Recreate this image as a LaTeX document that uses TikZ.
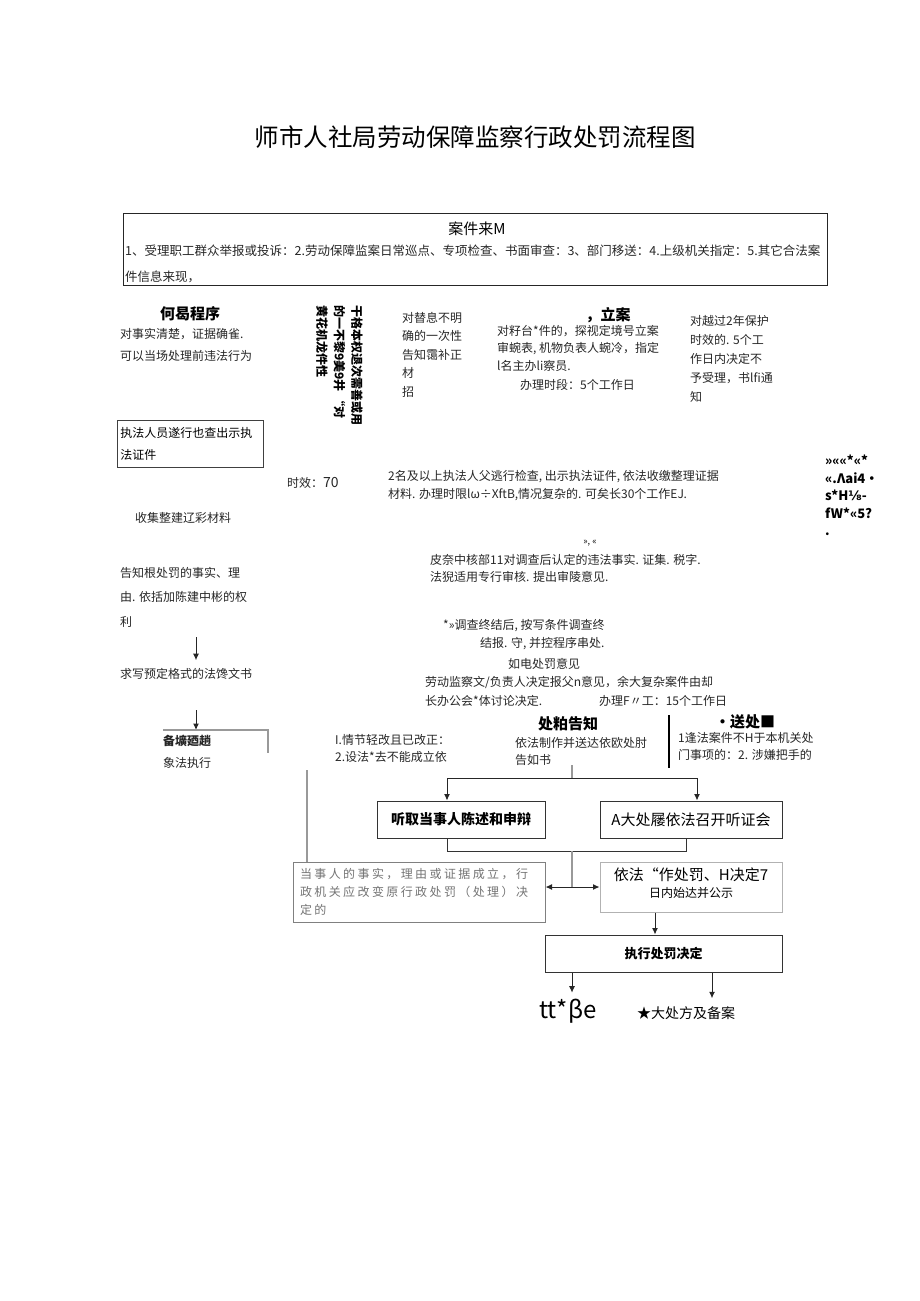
\documentclass[tikz,border=0pt]{standalone}
\usepackage{fontspec}
\setmainfont{Noto Sans CJK SC}
\newfontfamily\symfont{DejaVu Sans}
\usetikzlibrary{positioning,arrows.meta}

\tikzset{
    txt/.style={inner sep=0pt, anchor=north west, align=left, text=black!85,
        font=\fontsize{12}{18}\selectfont},
    line/.style={anchor=west, inner sep=0pt, text=black!85,
        font=\fontsize{12}{18}\selectfont},
    heading/.style={inner sep=0pt, font=\fontsize{15}{18}\selectfont\bfseries},
    flowbox/.style={draw=black!80, line width=1pt, minimum height=37pt, inner sep=2pt},
    greyline/.style={draw=black!40, line width=1.6pt},
    arrow/.style={->, draw=black!85, line width=1pt}
}

\begin{document}
\begin{tikzpicture}[x=1pt, y=-1pt, >={Latex[length=6.5pt,width=6pt]}]
    \useasboundingbox (0,0) rectangle (920,1301);

    % Title
    \node[font=\fontsize{24.5}{28}\selectfont] (title) at (475,137)
        {师市人社局劳动保障监察行政处罚流程图};

    % Case sources
    \node[draw=black!85, line width=0.8pt,
        minimum width=704pt,
        minimum height=72pt,
        anchor=north west
    ] (source) at (123,213) {};
    \node[font=\fontsize{15}{18}\selectfont] (sourcehead) at (477,229) {案件来M};
    \node[txt, font=\fontsize{12.5}{26}\selectfont] (sourcetxt) at (125,245)
        {1、受理职工群众举报或投诉：2.劳动保障监案日常巡点、专项检查、书面审查：3、部门移送：4.上级机关指定：5.其它合法案\\件信息来现，};

    % Second row
    \node[heading] (simple) at (190,314) {何曷程序};
    \node[txt, font=\fontsize{12}{22}\selectfont] (simpletxt) at (120,328)
        {对事实清楚，证据确雀.\\可以当场处理前违法行为};
    \node[txt, rotate=-90, text=black,
        font=\fontsize{12}{17.5}\selectfont\bfseries
    ] (reject) at (363,305)
        {干格本权退次需善或用\\的一不黎9美9井 “对\\黄花机龙件性};
    \node[txt, font=\fontsize{12}{18.5}\selectfont] (supply) at (402,312)
        {对替息不明\\确的一次性\\告知霭补正\\材\\招};
    \node[heading] (filing) at (608,315) {，立案};
    \node[txt, font=\fontsize{12}{17.5}\selectfont] (filingtxt) at (497,325)
        {对籽台*件的，探视定境号立案\\审蜿表, 机物负表人蜿冷，指定\\l名主办li察员.};
    \node[line] (filingtime) at (520,385) {办理时段：5个工作日};
    \node[txt, font=\fontsize{12}{19}\selectfont] (norecv) at (690,315)
        {对越过2年保护\\时效的. 5个工\\作日内决定不\\予受理，书lfi通\\知};

    % Third row
    \node[draw=black!75, line width=0.8pt,
        anchor=north west,
        minimum width=146pt,
        minimum height=47pt,
        text width=140pt,
        inner sep=3pt, align=left,
        font=\fontsize{12}{22}\selectfont
    ] (showid) at (117,420) {执法人员遂行也查出示执\\法证件};
    \node[line] (limit) at (287,483) {时效：{\fontsize{14}{18}\selectfont 70}};
    \node[txt, font=\fontsize{12}{18}\selectfont] (investigate) at (388,470)
        {2名及以上执法人父逃行检查, 出示执法证件, 依法收缴整理证据\\材料. 办理时限lω÷XftB,情况复杂的. 可矣长30个工作EJ.};
    \node[anchor=north west, inner sep=0pt, align=left,
        font=\fontsize{13}{17.5}\selectfont\bfseries
    ] (garble) at (825,455) {»««*«*\\«.Λai4·\\s*H{\symfont\bfseries ⅛}-\\fW*«5?\\.};
    \node[line] (collect) at (135,518) {收集整建辽彩材料};
    \node[font=\fontsize{9}{10}\selectfont, inner sep=0pt] (mark) at (590,543) {», «};
    \node[txt, font=\fontsize{12}{17}\selectfont] (review) at (430,554)
        {皮奈中核部11对调查后认定的违法事实. 证集. 税字.\\法猊适用专行审核. 提出审陵意见.};
    \node[txt, font=\fontsize{12}{24.5}\selectfont] (notify) at (120,567)
        {告知根处罚的事实、理\\由. 依括加陈建中彬的权\\利};
    \node[txt, font=\fontsize{12}{18}\selectfont] (report) at (443,619)
        {*»调查终结后, 按写条件调查终\\\hspace{37pt}结报. 守, 并控程序串处.};
    \node[line] (write) at (120,674) {求写预定格式的法馋文书};
    \node[line] (decide) at (508,664) {如电处罚意见};
    \node[txt, font=\fontsize{12}{19}\selectfont] (decidetxt) at (425,676)
        {劳动监察文/负责人决定报父n意见，余大复杂案件由却\\长办公会*体讨论决定.};
    \node[line] (decidetime) at (599,701) {办理F〃工：15个工作日};

    % Left column arrows
    \coordinate (a1) at (196,637);
    \coordinate (a2) at (196,710);
    \coordinate (f1) at (163,730);
    \draw[arrow] (a1) -- ([yshift=8pt]write.north -| a1);
    \draw[arrow] (a2) -- (a2 |- f1);
    \draw[greyline] (f1) -| (268,753);
    \node[line, font=\fontsize{12}{18}\selectfont\bfseries] (execute) at (163,741) {备壙廼趟};
    \node[line] (executetxt) at (163,763) {象法执行};

    % Notification row
    \node[txt, font=\fontsize{12}{17}\selectfont] (exempt) at (335,734)
        {I.情节轻改且已改正：\\2.设法*去不能成立依};
    \node[heading] (inform) at (568,724) {处粕告知};
    \node[txt, font=\fontsize{12}{17}\selectfont] (informtxt) at (515,737)
        {依法制作并送达依欧处肘\\告如书};
    \draw[line width=1.5pt] (669,715) -- (669,768);
    \node[heading] (transfer) at (745,722) {•送处■};
    \node[txt, font=\fontsize{12}{17}\selectfont] (transfertxt) at (678,732)
        {1逢法案件不H于本机关处\\门事项的：2. 涉嫌把手的};

    % Hearing
    \node[flowbox, minimum width=168pt,
        font=\fontsize{14}{18}\selectfont\bfseries
    ] (hear) at (461,819.5) {听取当事人陈述和申辩};
    \node[flowbox, minimum width=182pt,
        font=\fontsize{15}{18}\selectfont
    ] (hearing) at (691,819.5) {A大处屦依法召开听证会};
    \coordinate (top) at (572,765);
    \coordinate (split) at (572,778);
    \coordinate (merge) at (572,851);
    \coordinate (mid) at (572,887);
    \draw[greyline] (top) -- (split);
    \draw[arrow] (split) -| ([xshift=-14pt]hear.north);
    \draw[arrow] (split) -| ([xshift=6pt]hearing.north);
    \draw[draw=black!80, line width=1pt] ([xshift=-14pt]hear.south) |- (merge);
    \draw[draw=black!80, line width=1pt] ([xshift=-5pt]hearing.south) |- (merge);
    \draw[greyline] (merge) -- (mid);

    % Decision
    \node[draw=black!50, line width=1pt,
        minimum width=252pt,
        minimum height=60pt,
        text width=238pt,
        align=left, inner sep=3pt, text=black!55,
        font=\fontsize{12}{18}\selectfont\addfontfeature{LetterSpace=20}
    ] (change) at (419,892)
        {当事人的事实，理由或证据成立，行\\政机关应改变原行政处罚（处理）决\\定的};
    \node[draw=black!30, line width=1pt,
        minimum width=182pt,
        minimum height=50pt,
        align=center, inner sep=2pt,
        font=\fontsize{15}{16}\selectfont
    ] (publish) at (691,887)
        {依法“作处罚、H决定7\\[1pt]{\fontsize{12}{15}\selectfont 日内始达并公示\rule[-9pt]{0pt}{0pt}}};
    \draw[arrow, <->] (change.east |- mid) -- (publish.west |- mid);
    \coordinate (g1) at (307,770);
    \draw[greyline] (g1) -- (g1 |- change.north);

    % Enforcement
    \node[flowbox, minimum width=237pt,
        font=\fontsize{13}{18}\selectfont\bfseries
    ] (enforce) at (663.5,953.5) {执行处罚决定};
    \draw[arrow] ([xshift=-36pt]publish.south) -- ([xshift=-36pt]publish.south |- enforce.north);
    \node[font=\fontsize{24}{28}\selectfont, inner sep=0pt] (done) at (568,1011) {tt*βe};
    \node[font=\fontsize{14}{18}\selectfont, inner sep=0pt] (archive) at (686,1013) {★大处方及备案};
    \draw[arrow] (enforce.south -| mid) -- ([yshift=6pt]done.north -| mid);
    \draw[arrow] ([xshift=48.5pt]enforce.south) -- ([xshift=48.5pt,yshift=8pt]enforce.south |- archive.north);
\end{tikzpicture}
\end{document}
